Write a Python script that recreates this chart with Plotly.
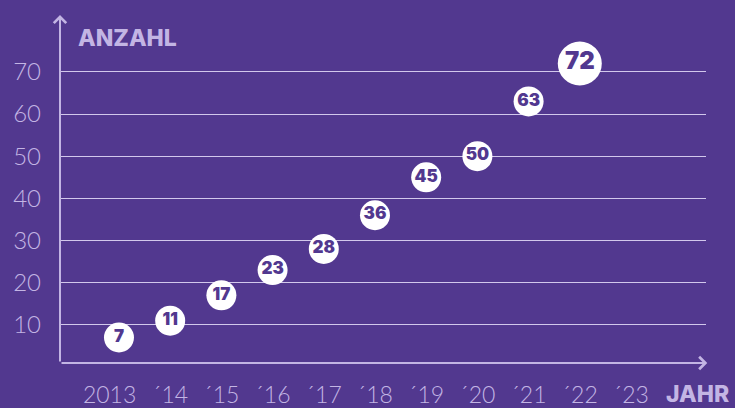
import plotly.graph_objects as go

years = [2013, 2014, 2015, 2016, 2017, 2018, 2019, 2020, 2021, 2022]
counts = [7, 11, 17, 23, 28, 36, 45, 50, 63, 72]
x_tick_vals = [2013, 2014, 2015, 2016, 2017, 2018, 2019, 2020, 2021, 2022, 2023]
x_tick_text = ["2013\u00a0\u00a0\u00a0", "´14", "´15", "´16", "´17", "´18", "´19", "´20", "´21", "´22", "´23"]
y_tick_vals = [10, 20, 30, 40, 50, 60, 70]

BG = "#52388f"
LAV = "#c3b5e4"
GRID = "#d2c8ec"

sizes = [30] * (len(counts) - 1) + [44]
tsizes = [17] * (len(counts) - 1) + [24]

fig = go.Figure()
fig.add_trace(go.Scatter(
    x=years, y=counts, mode="markers+text",
    text=[str(c) for c in counts], textposition="middle center",
    marker=dict(size=sizes, color="white", opacity=1, line=dict(width=0)),
    textfont=dict(family="Inter", size=tsizes, color=BG, weight=900),
    hoverinfo="skip", cliponaxis=False,
))

fig.update_layout(
    width=735, height=408,
    paper_bgcolor=BG, plot_bgcolor=BG,
    margin=dict(l=60, r=29, t=15, b=45),
    showlegend=False,
    xaxis=dict(range=[2011.848, 2024.465], tickvals=x_tick_vals, ticktext=x_tick_text,
               showgrid=False, zeroline=False, showline=False, automargin=False, tickangle=0,
               tickfont=dict(family="Lato", size=23, color=LAV, weight=300),
               ticks="", ticklabelstandoff=16),
    yaxis=dict(range=[0.95, 83.5], tickvals=y_tick_vals, automargin=False,
               showgrid=True, gridcolor=GRID, gridwidth=1, zeroline=False, showline=False,
               tickfont=dict(family="Lato", size=24, color=LAV, weight=300),
               ticks="", ticklabelstandoff=18),
    annotations=[
        dict(x=0, y=1, xref="x domain", yref="y domain", ax=0, ay=0,
             axref="x domain", ayref="y domain", showarrow=True, arrowhead=4,
             arrowsize=1.2, arrowwidth=2, arrowcolor=LAV, text="", standoff=0),
        dict(x=1.002, y=0, xref="x domain", yref="y domain", ax=0, ay=0,
             axref="x domain", ayref="y domain", showarrow=True, arrowhead=4,
             arrowsize=1.2, arrowwidth=2, arrowcolor=LAV, text="", standoff=0),
        dict(x=0.0248, y=0.935, xref="paper", yref="paper", xanchor="left", yanchor="middle",
             text="ANZAHL", showarrow=False,
             font=dict(family="Inter", size=23, color=LAV, weight=800)),
        dict(x=1.0385, y=-0.089, xref="paper", yref="paper", xanchor="right", yanchor="middle",
             text="JAHR", showarrow=False,
             font=dict(family="Inter", size=23, color=LAV, weight=800)),
    ],
)

fig.write_html("out.html", config={"displayModeBar": False},
               post_script="document.body.style.margin='0';")
